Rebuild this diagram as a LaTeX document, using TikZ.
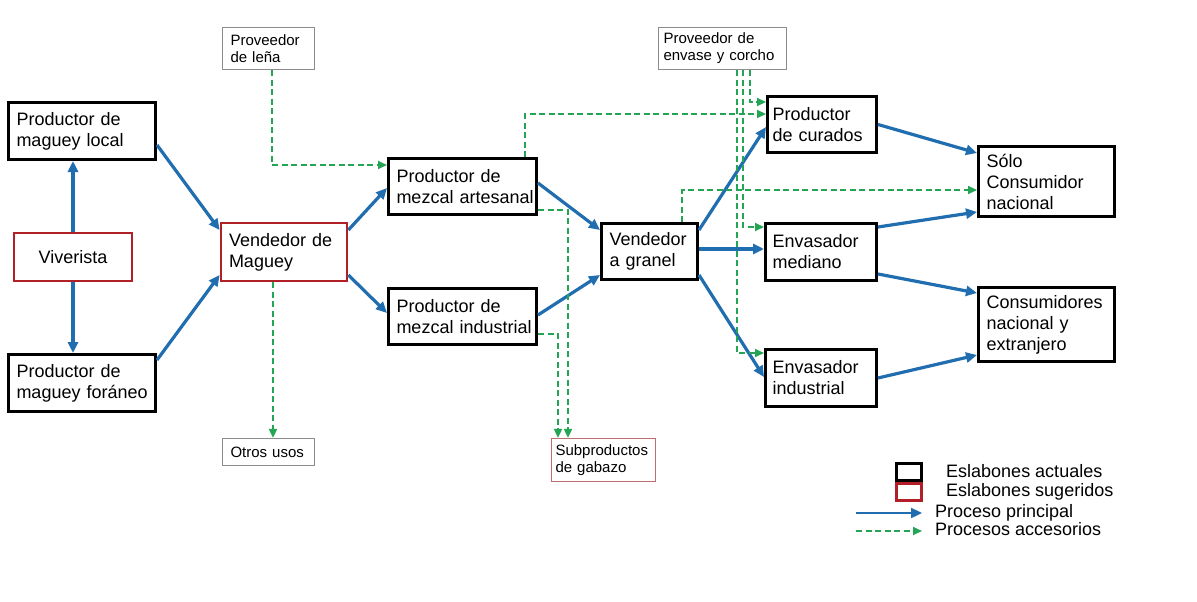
\documentclass[tikz,border=0pt]{standalone}
\usepackage{fontspec}
\setmainfont{Liberation Sans}
\usetikzlibrary{arrows.meta}
\hyphenpenalty=10000
\exhyphenpenalty=10000
\definecolor{bluec}{RGB}{32,110,175}
\definecolor{greenc}{RGB}{35,165,85}
\definecolor{redc}{RGB}{176,32,38}
\definecolor{grayc}{RGB}{140,140,140}
\definecolor{subc}{RGB}{190,110,110}
\begin{document}
\begin{tikzpicture}[x=1pt,y=-1pt,
  base/.style={rectangle, inner xsep=8pt, inner ysep=0pt, align=left,
    font=\fontsize{18}{21}\selectfont},
  actual/.style={base, draw=black, line width=3pt},
  sugerido/.style={base, draw=redc, line width=2.7pt},
  aux/.style={rectangle, draw=grayc, line width=1.3pt, inner xsep=8pt, inner ysep=0pt,
    align=left, font=\fontsize{15}{17}\selectfont},
  main/.style={draw=bluec, line width=3.2pt, -{Triangle[length=11pt,width=10pt]}},
  acc/.style={draw=greenc, line width=1.9pt, dash pattern=on 6pt off 3.5pt,
    -{Triangle[length=9pt,width=8pt]}},
  legtext/.style={anchor=base west, inner sep=0pt, font=\fontsize{18}{21}\selectfont}
]
\fill[white] (0,0) rectangle (1197,602);
\useasboundingbox (0,0) rectangle (1197,602);

% boxes
\node[actual, text width=131pt, minimum height=57pt] (loc) at (82,131) {Productor~de\\maguey~local};
\node[sugerido, align=center, text width=102pt, minimum height=48pt] (viv) at (73,257) {Viverista};
\node[actual, text width=131pt, minimum height=57pt] (for) at (82,383) {Productor~de\\maguey~foráneo};
\node[sugerido, text width=110pt, minimum height=58pt] (vmag) at (284,252) {Vendedor~de\\Maguey};
\node[aux, text width=76pt, minimum height=42pt] (lena) at (268.5,48.5) {Proveedor\\de~leña};
\node[aux, text width=76pt, minimum height=27pt] (otros) at (268.5,452) {Otros~usos};
\node[actual, text width=132pt, minimum height=56pt] (art) at (462.5,186.5) {Productor~de\\mezcal~artesanal};
\node[actual, text width=132pt, minimum height=56pt] (ind) at (462.5,316.5) {Productor~de\\mezcal~industrial};
\node[aux, draw=subc, inner xsep=4pt, text width=96pt, minimum height=43pt] (sub) at (603.5,460) {Subproductos\\de~gabazo};
\node[actual, text width=80pt, minimum height=56pt] (gran) at (649.5,251.5) {Vendedor\\a~granel};
\node[aux, inner xsep=5pt, text width=118pt, minimum height=42pt] (env) at (722.5,48.5) {Proveedor~de\\envase~y~corcho};
\node[actual, inner xsep=5pt, text width=99pt, minimum height=56pt] (cur) at (822,124.5) {Productor\\de~curados};
\node[actual, inner xsep=7pt, text width=97pt, minimum height=57pt] (med) at (821,252) {Envasador\\mediano};
\node[actual, inner xsep=7pt, text width=97pt, minimum height=57pt] (eind) at (821,378) {Envasador\\industrial};
\node[actual, text width=120pt, minimum height=70pt] (solo) at (1046.5,181.5) {Sólo\\Consumidor\\nacional};
\node[actual, text width=120pt, minimum height=74pt] (cons) at (1046.5,324.5) {Consumidores\\nacional~y\\extranjero};

% main process
\draw[main] (viv.north) -- (viv.north |- loc.south);
\draw[main] (viv.south) -- (viv.south |- for.north);
\draw[main] ([yshift=-14pt]loc.east) -- ([yshift=22pt]vmag.west);
\draw[main] ([yshift=23pt]for.east) -- ([yshift=-23pt]vmag.west);
\draw[main] ([yshift=22pt]vmag.east) -- ([yshift=-1.5pt]art.west);
\draw[main] ([yshift=-23pt]vmag.east) -- ([yshift=3.5pt]ind.west);
\draw[main] ([yshift=3.5pt]art.east) -- ([yshift=21.5pt]gran.west);
\draw[main] ([yshift=1.5pt]ind.east) -- ([yshift=-23.5pt]gran.west);
\draw[main] ([yshift=21.5pt]gran.east) -- ([yshift=-2.5pt]cur.west);
\draw[main] ([yshift=2.5pt]gran.east) -- ([yshift=2.5pt]gran.east -| med.west);
\draw[main] ([yshift=-23.5pt]gran.east) -- ([yshift=1pt]eind.west);
\draw[main] (cur.east) -- ([yshift=28.5pt]solo.west);
\draw[main] ([yshift=25pt]med.east) -- ([yshift=-30.5pt]solo.west);
\draw[main] ([yshift=-22pt]med.east) -- ([yshift=31.5pt]cons.west);
\draw[main] (eind.east) -- ([yshift=-30.5pt]cons.west);

% accessory processes
\draw[acc] ([xshift=3.5pt]lena.south) |- ([yshift=21.5pt]art.west);
\draw[acc] ([xshift=-11pt]vmag.south) -- ([xshift=-11pt]vmag.south |- otros.north);
\draw[acc] ([xshift=62.5pt]art.north) |- ([yshift=10.5pt]cur.west);
\draw[acc] ([yshift=-23.5pt]art.east) -| ([xshift=-35.5pt]sub.north);
\draw[acc] ([yshift=-17.5pt]ind.east) -| ([xshift=-45.5pt]sub.north);
\draw[acc] ([xshift=27.5pt]env.south) |- ([yshift=22.5pt]cur.west);
\draw[acc] ([xshift=20.5pt]env.south) |- ([yshift=25pt]med.west);
\draw[acc] ([xshift=14.5pt]env.south) |- ([yshift=25pt]eind.west);
\draw[acc] ([xshift=32.5pt]gran.north) |- ([yshift=-8.5pt]solo.west);

% legend
\node[draw=black, line width=3pt, minimum width=25pt, minimum height=17pt, inner sep=0pt] (lg1) at (909,472) {};
\node[draw=redc, line width=2.7pt, minimum width=25.3pt, minimum height=17.3pt, inner sep=0pt] (lg2) at (909,492) {};
\node[legtext] (lt1) at (946,477) {Eslabones actuales};
\node[legtext] (lt2) at (946,496) {Eslabones sugeridos};
\node[legtext] (lt3) at (935,517) {Proceso principal};
\node[legtext] (lt4) at (935,535) {Procesos accesorios};
\coordinate (la1) at (856,513);
\coordinate (la2) at (922,513);
\coordinate (lb1) at (856,531);
\coordinate (lb2) at (922,531);
\draw[main, line width=2.3pt] (la1) -- (la2);
\draw[acc] (lb1) -- (lb2);
\end{tikzpicture}
\end{document}
